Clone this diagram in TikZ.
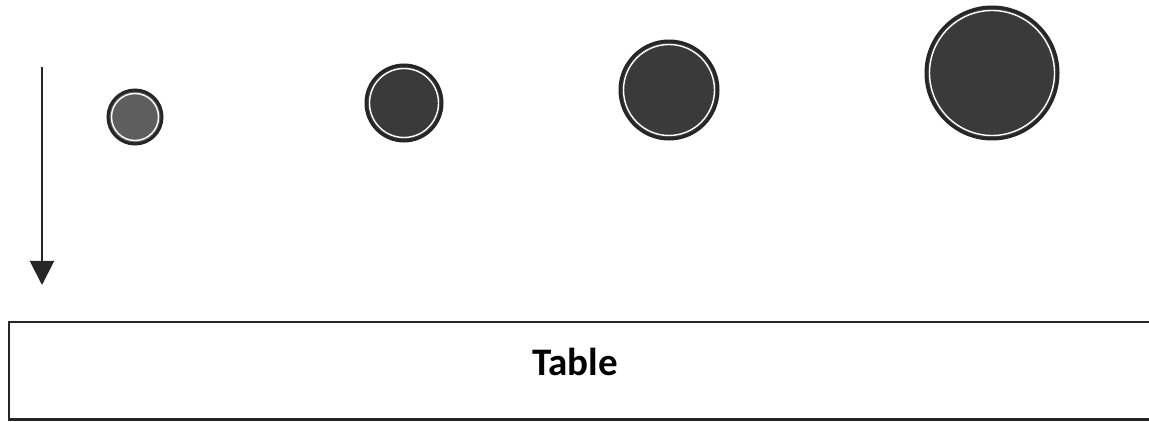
\documentclass[tikz,border=0pt]{standalone}
\usepackage{fontspec}
\setmainfont{Carlito}
\usetikzlibrary{arrows.meta}
\definecolor{ink}{HTML}{262626}
\definecolor{ballgray}{HTML}{3A3A3A}
\definecolor{smallgray}{HTML}{5E5E5E}
\tikzset{
  ball/.style={circle, draw=ink, line width=3pt, inner sep=0pt},
  ring/.style={draw=white, line width=1.4pt},
  tableedge/.style={draw=ink, line width=2.5pt},
}
\newcommand{\myball}[5]{% name, x, y, radius, fill
  \node[ball, fill=#5, minimum size=2*#4] (#1) at (#2,#3) {};
  \draw[ring] (#1.center) circle ({#4-3.5});
}
\begin{document}
\begin{tikzpicture}[x=1pt,y=-1pt]
\useasboundingbox (0,0) rectangle (1149,422);
\fill[white] (0,0) rectangle (1149,422);
% falling arrow
\coordinate (top) at (42,67);
\coordinate (bot) at (42,285);
\draw[ink, line width=2pt, -{Triangle[width=24pt,length=24pt]}] (top) -- (bot);
% balls
\myball{b1}{135}{117}{27}{smallgray}
\myball{b2}{404}{103}{38}{ballgray}
\myball{b3}{669}{90}{49}{ballgray}
\myball{b4}{992}{73}{66}{ballgray}
% table (open to the right edge)
\node[minimum width=1180pt, minimum height=97pt, anchor=north west, inner sep=0pt] (table) at (9,322) {};
\draw[tableedge] (table.north east) -- (table.north west) -- (table.south west) -- (table.south east);
\node[font=\bfseries\fontsize{39}{46}\selectfont] (label) at (575,362) {Table};
\end{tikzpicture}
\end{document}
